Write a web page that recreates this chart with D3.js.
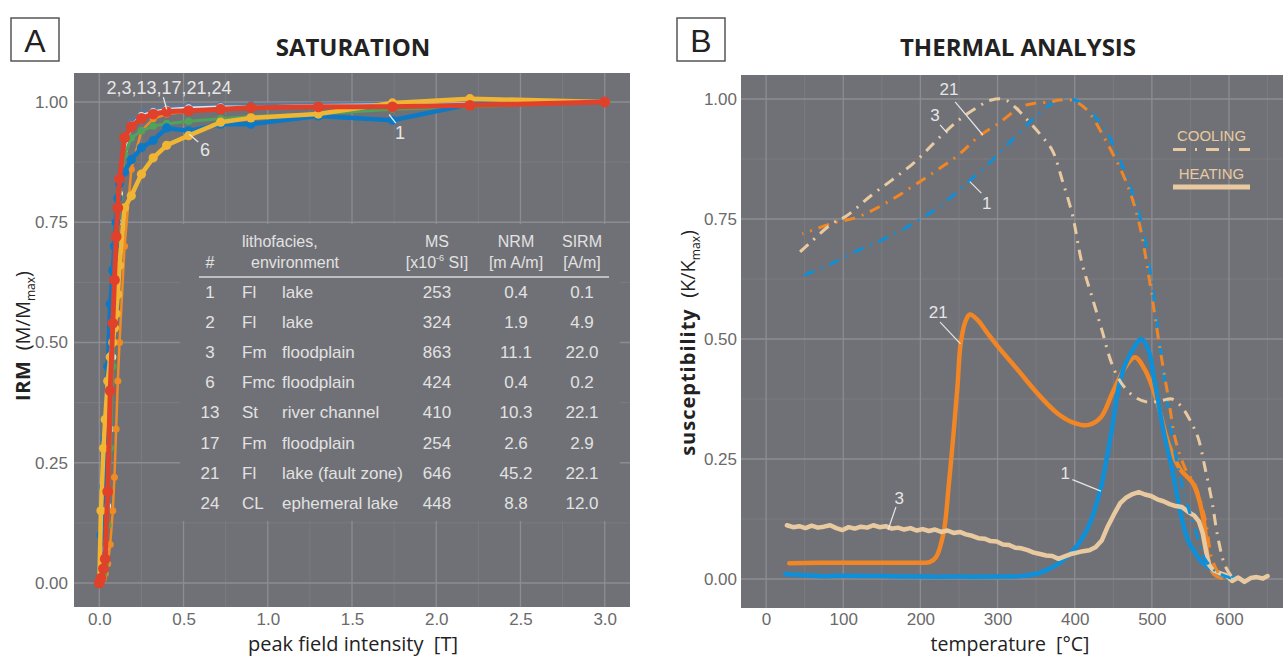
<!DOCTYPE html>
<html>
<head>
<meta charset="utf-8">
<script src="https://cdn.jsdelivr.net/npm/d3@7/dist/d3.min.js"></script>
<style>
    body { margin: 0; background: #fff; }
    text { font-family: "Liberation Sans", Arial, sans-serif; }
</style>
</head>
<body>
<svg id="chart" width="1283" height="659"></svg>
<script>
// - - - - - - - - - -
// data: A - saturation (IRM acquisition)
// - - - - - - - - - -
const fieldT = [0, 0.01, 0.025, 0.035, 0.05, 0.065, 0.08, 0.09, 0.1, 0.11, 0.12, 0.15, 0.19, 0.25, 0.32, 0.4, 0.53, 0.72, 0.9, 1.3, 1.74, 2.2, 3.0];

const irm2  = [0, 0.02, 0.06, 0.12, 0.25, 0.42, 0.56, 0.64, 0.72, 0.79, 0.85, 0.93, 0.96, 0.978, 0.985, 0.99, 0.993, 0.994, 0.995, 0.996, 0.997, 0.998, 1.0];
const irm3  = [0, 0.01, 0.03, 0.07, 0.16, 0.32, 0.47, 0.57, 0.67, 0.75, 0.81, 0.9, 0.952, 0.972, 0.98, 0.985, 0.988, 0.99, 0.99, 0.993, 0.995, 0.997, 1.0];
const irm13 = [0, 0, 0.01, 0.02, 0.04, 0.08, 0.15, 0.22, 0.32, 0.42, 0.5, 0.7, 0.86, 0.94, 0.965, 0.975, 0.98, 0.985, 0.988, 0.99, 0.992, 0.995, 1.0];
const irm17 = [0, 0.005, 0.02, 0.04, 0.12, 0.28, 0.45, 0.55, 0.64, 0.72, 0.8, 0.89, 0.925, 0.94, 0.95, 0.955, 0.96, 0.965, 0.97, 0.975, 0.985, 0.99, 1.0];
const irm1  = [0, 0.1, 0.2, 0.3, 0.45, 0.58, 0.65, 0.7, 0.75, 0.8, 0.83, 0.855, 0.88, 0.905, 0.92, 0.946, 0.94, 0.954, 0.954, 0.971, 0.962, 0.995, 1.0];
const irm6  = [0, 0.15, 0.28, 0.34, 0.42, 0.47, 0.5, 0.53, 0.56, 0.6, 0.66, 0.78, 0.805, 0.85, 0.884, 0.91, 0.93, 0.958, 0.967, 0.975, 0.998, 1.007, 1.0];
const irm21 = [0, 0.01, 0.03, 0.05, 0.19, 0.4, 0.54, 0.63, 0.72, 0.78, 0.84, 0.926, 0.949, 0.966, 0.975, 0.98, 0.982, 0.985, 0.988, 0.99, 0.99, 0.993, 1.0];

// table of samples
const sampleIds = ['1', '2', '3', '6', '13', '17', '21', '24'];
const facies    = ['Fl', 'Fl', 'Fm', 'Fmc', 'St', 'Fm', 'Fl', 'CL'];
const envs      = ['lake', 'lake', 'floodplain', 'floodplain', 'river channel', 'floodplain', 'lake (fault zone)', 'ephemeral lake'];
const msVals    = ['253', '324', '863', '424', '410', '254', '646', '448'];
const nrmVals   = ['0.4', '1.9', '11.1', '0.4', '10.3', '2.6', '45.2', '8.8'];
const sirmVals  = ['0.1', '4.9', '22.0', '0.2', '22.1', '2.9', '22.1', '12.0'];

// - - - - - - - - - -
// data: B - thermal analysis, [T degC, K/Kmax]
// - - - - - - - - - -
const heat21 = [[30,0.033],[100,0.034],[150,0.034],[200,0.034],[212,0.035],[220,0.045],[230,0.096],[237,0.2],[243,0.304],[248,0.4],[252,0.488],[258,0.535],[264,0.551],[274,0.54],[287,0.512],[300,0.485],[326,0.436],[351,0.388],[377,0.346],[398,0.326],[418,0.321],[434,0.337],[449,0.388],[465,0.44],[478,0.462],[491,0.436],[506,0.374],[522,0.28],[537,0.228],[553,0.2],[560,0.172],[565,0.14],[569,0.1],[573,0.04],[580,0.012],[590,0.003]];
const heat1  = [[25,0.01],[50,0.008],[70,0.006],[100,0.007],[150,0.006],[200,0.005],[250,0.005],[300,0.005],[330,0.006],[353,0.012],[377,0.03],[401,0.065],[418,0.11],[433,0.185],[449,0.32],[457,0.4],[465,0.445],[478,0.485],[486,0.5],[495,0.48],[504,0.407],[515,0.31],[526,0.231],[539,0.125],[547,0.08],[556,0.055],[565,0.035],[578,0.02],[595,0.006],[605,0.004]];
const heat3  = [[27,0.112],[35,0.108],[43,0.110],[51,0.106],[59,0.111],[67,0.107],[75,0.109],[83,0.112],[91,0.106],[99,0.102],[107,0.108],[115,0.105],[123,0.109],[131,0.107],[139,0.112],[147,0.108],[155,0.110],[163,0.105],[171,0.107],[179,0.103],[187,0.106],[195,0.101],[203,0.104],[211,0.100],[219,0.103],[227,0.098],[235,0.101],[243,0.096],[251,0.098],[259,0.093],[267,0.090],[275,0.085],[283,0.084],[291,0.079],[299,0.078],[307,0.072],[315,0.071],[323,0.065],[331,0.064],[339,0.060],[347,0.055],[355,0.052],[363,0.049],[371,0.048],[379,0.042],[387,0.047],[395,0.052],[403,0.055],[411,0.058],[419,0.060],[427,0.066],[435,0.080],[443,0.110],[451,0.135],[459,0.158],[467,0.170],[475,0.177],[483,0.181],[491,0.176],[499,0.173],[507,0.166],[515,0.162],[523,0.156],[531,0.152],[539,0.150],[547,0.140],[555,0.132],[561,0.120],[566,0.095],[570,0.060],[574,0.030],[580,0.018],[588,0.012],[596,0.008],[604,-0.004],[612,0.003],[620,-0.006],[628,0.002],[636,0.004],[644,0.001],[650,0.006]];

const cool1  = [[603,0.002],[586,0.013],[569,0.041],[556,0.104],[545,0.16],[534,0.231],[526,0.301],[517,0.407],[509,0.506],[500,0.618],[487,0.738],[474,0.808],[457,0.879],[440,0.935],[418,0.977],[405,0.995],[390,1.0],[374,0.994],[348,0.961],[326,0.926],[305,0.892],[288,0.864],[262,0.827],[227,0.779],[198,0.748],[163,0.716],[120,0.685],[77,0.651],[43,0.629]];
const cool21 = [[586,0.013],[578,0.041],[569,0.125],[556,0.196],[543,0.231],[530,0.294],[522,0.372],[513,0.456],[504,0.548],[496,0.632],[483,0.745],[466,0.83],[440,0.914],[416,0.977],[397,0.997],[380,0.998],[369,0.994],[348,0.991],[331,0.984],[301,0.949],[275,0.921],[249,0.883],[219,0.849],[189,0.817],[155,0.783],[120,0.755],[86,0.741],[47,0.719]];
const cool3  = [[603,0.006],[595,0.027],[586,0.083],[578,0.161],[569,0.231],[560,0.294],[552,0.323],[539,0.358],[526,0.375],[513,0.372],[496,0.368],[478,0.379],[461,0.407],[448,0.449],[435,0.52],[422,0.59],[409,0.661],[397,0.759],[384,0.83],[371,0.893],[356,0.925],[339,0.956],[322,0.984],[309,0.999],[292,0.998],[275,0.984],[253,0.96],[228,0.925],[193,0.869],[163,0.831],[137,0.8],[103,0.755],[86,0.741],[56,0.699],[43,0.68]];

// ticks
const xTicksA = [0, 0.5, 1, 1.5, 2, 2.5, 3];
const yTicks  = [0, 0.25, 0.5, 0.75, 1];
const xTicksB = [0, 100, 200, 300, 400, 500, 600];

// - - - - - - - - - -
const BG = '#707176';
const svg = d3.select('#chart');

const xA = d3.scaleLinear().domain([0, 3]).range([99.3, 604.7]);
const yA = d3.scaleLinear().domain([0, 1]).range([583, 102]);
const boxA = { x0: 74, x1: 630, y0: 73, y1: 607 };

const xB = d3.scaleLinear().domain([0, 600]).range([766.1, 1229]);
const yB = d3.scaleLinear().domain([0, 1]).range([579, 99]);
const boxB = { x0: 741, x1: 1283, y0: 75, y1: 608 };

function drawPanel(box, x, y, xMaj, xMin, yMaj, yMin) {
    const g = svg.append('g');
    g.append('rect')
        .attr('x', box.x0).attr('y', box.y0)
        .attr('width', box.x1 - box.x0).attr('height', box.y1 - box.y0)
        .attr('fill', BG);

    const vline = (vals, w, c) => g.selectAll(null).data(vals).enter().append('line')
        .attr('x1', d => x(d)).attr('x2', d => x(d))
        .attr('y1', box.y0).attr('y2', box.y1)
        .attr('stroke', c).attr('stroke-width', w);
    const hline = (vals, w, c) => g.selectAll(null).data(vals).enter().append('line')
        .attr('y1', d => y(d)).attr('y2', d => y(d))
        .attr('x1', box.x0).attr('x2', box.x1)
        .attr('stroke', c).attr('stroke-width', w);

    vline(xMin, 0.7, '#7f8085');
    hline(yMin, 0.7, '#7f8085');
    vline(xMaj, 1.3, '#8c8d92');
    hline(yMaj, 1.3, '#8c8d92');
    return g;
}

function styleAxis(g) {
    g.select('.domain').remove();
    g.selectAll('text')
        .attr('fill', '#6a6a6a')
        .style('font-size', '17px')
        .style('font-family', '"Liberation Sans", Arial, sans-serif');
}

// - - - - - - - - - -
// panel A
// - - - - - - - - - -
const minorA = d3.range(0.25, 3.2, 0.5);
const minorY = d3.range(0.125, 1.05, 0.25);
drawPanel(boxA, xA, yA, xTicksA, minorA, yTicks, minorY);

svg.append('g').attr('transform', `translate(0,${boxA.y1})`)
    .call(d3.axisBottom(xA).tickValues(xTicksA).tickSize(0).tickPadding(6).tickFormat(d3.format('.1f')))
    .call(styleAxis);
svg.append('g').attr('transform', `translate(${boxA.x0},0)`)
    .call(d3.axisLeft(yA).tickValues(yTicks).tickSize(0).tickPadding(6).tickFormat(d3.format('.2f')))
    .call(styleAxis);

// table (covers the grid)
const tbl = svg.append('g').attr('fill', '#e2e2e2').style('font-size', '17px');
tbl.append('rect').attr('x', 180).attr('y', 224).attr('width', 440).attr('height', 297).attr('fill', BG);

const hdr = [
    { t: '#', x: 210, y: 268, a: 'middle' },
    { t: 'lithofacies,', x: 242, y: 247, a: 'start' },
    { t: 'environment', x: 251, y: 268, a: 'start' },
    { t: 'MS', x: 437, y: 247, a: 'middle' },
    { t: 'NRM', x: 516, y: 247, a: 'middle' },
    { t: '[m A/m]', x: 516, y: 268, a: 'middle' },
    { t: 'SIRM', x: 582, y: 247, a: 'middle' },
    { t: '[A/m]', x: 582, y: 268, a: 'middle' }
];
tbl.selectAll('.hdr').data(hdr).enter().append('text')
    .attr('x', d => d.x).attr('y', d => d.y).attr('text-anchor', d => d.a)
    .style('font-size', '16px').text(d => d.t);
const msUnit = tbl.append('text').attr('x', 437).attr('y', 268).attr('text-anchor', 'middle').style('font-size', '16px');
msUnit.append('tspan').text('[x10');
msUnit.append('tspan').attr('dy', -7).style('font-size', '9px').text('-6');
msUnit.append('tspan').attr('dy', 7).text(' SI]');
tbl.append('line').attr('x1', 199).attr('x2', 609).attr('y1', 277).attr('y2', 277)
    .attr('stroke', '#d8d8d8').attr('stroke-width', 1.3);

const rowY = i => 298 + i * 30.1;
const cols = [
    { vals: sampleIds, x: 210, a: 'middle' },
    { vals: facies, x: 242, a: 'start' },
    { vals: envs, x: 282, a: 'start' },
    { vals: msVals, x: 437, a: 'middle' },
    { vals: nrmVals, x: 516, a: 'middle' },
    { vals: sirmVals, x: 582, a: 'middle' }
];
cols.forEach(c => {
    tbl.selectAll(null).data(c.vals).enter().append('text')
        .attr('x', c.x).attr('y', (d, i) => rowY(i))
        .attr('text-anchor', c.a).text(d => d);
});

// curves
const seriesA = [
    { v: irm2, c: '#5c7898', w: 3, r: 3.5 },
    { v: irm3, c: '#e4e4e6', w: 2.5, r: 3.5 },
    { v: irm13, c: '#f08a24', w: 2.5, r: 3.5 },
    { v: irm17, c: '#4fa35a', w: 3, r: 3.8 },
    { v: irm1, c: '#0c79c6', w: 4.5, r: 4.6 },
    { v: irm6, c: '#f1b534', w: 4.5, r: 4.6 },
    { v: irm21, c: '#e0412b', w: 5, r: 5.4 }
];
const lineA = d3.line().x(d => xA(d[0])).y(d => yA(d[1]));
seriesA.forEach(s => {
    const pts = fieldT.map((f, i) => [f, s.v[i]]);
    svg.append('path').datum(pts).attr('d', lineA)
        .attr('fill', 'none').attr('stroke', s.c).attr('stroke-width', s.w)
        .attr('stroke-linejoin', 'round');
    svg.append('g').selectAll('circle').data(pts).enter().append('circle')
        .attr('cx', d => xA(d[0])).attr('cy', d => yA(d[1])).attr('r', s.r)
        .attr('fill', s.c);
});

// labels in A
const labelsA = [
    { t: '2,3,13,17,21,24', x: 0.414, y: 1.017, l: [[0.38, 1.01], [0.40, 0.985]] },
    { t: '6', x: 0.627, y: 0.888, l: [[0.587, 0.917], [0.534, 0.933]] },
    { t: '1', x: 1.785, y: 0.923, l: [[1.76, 0.956], [1.72, 0.974]] }
];
labelsA.forEach(d => {
    svg.append('line')
        .attr('x1', xA(d.l[0][0])).attr('y1', yA(d.l[0][1]))
        .attr('x2', xA(d.l[1][0])).attr('y2', yA(d.l[1][1]))
        .attr('stroke', '#e6e6e6').attr('stroke-width', 1.3);
    svg.append('text').attr('x', xA(d.x)).attr('y', yA(d.y))
        .attr('text-anchor', 'middle').attr('fill', '#e6e6e6')
        .style('font-size', '18px').text(d.t);
});

// - - - - - - - - - -
// panel B
// - - - - - - - - - -
const clip = svg.append('clipPath').attr('id', 'clipB');
clip.append('rect').attr('x', boxB.x0).attr('y', boxB.y0).attr('width', boxB.x1 - boxB.x0).attr('height', boxB.y1 - boxB.y0);

drawPanel(boxB, xB, yB, xTicksB, d3.range(50, 700, 100), yTicks, minorY);

svg.append('g').attr('transform', `translate(0,${boxB.y1})`)
    .call(d3.axisBottom(xB).tickValues(xTicksB).tickSize(0).tickPadding(5).tickFormat(d3.format('d')))
    .call(styleAxis);
svg.append('g').attr('transform', `translate(${boxB.x0},0)`)
    .call(d3.axisLeft(yB).tickValues(yTicks).tickSize(0).tickPadding(4).tickFormat(d3.format('.2f')))
    .call(styleAxis);

const BLUE = '#0d8fd9', ORANGE = '#f28524', BEIGE = '#e9caa0';
const lineB = d3.line().x(d => xB(d[0])).y(d => yB(d[1])).curve(d3.curveCatmullRom);
const lineRough = d3.line().x(d => xB(d[0])).y(d => yB(d[1]));
const gB = svg.append('g').attr('clip-path', 'url(#clipB)');

const heating = [
    { d: heat21, c: ORANGE, f: lineB },
    { d: heat1, c: BLUE, f: lineB },
    { d: heat3, c: BEIGE, f: lineRough }
];
heating.forEach(s => {
    gB.append('path').datum(s.d).attr('d', s.f)
        .attr('fill', 'none').attr('stroke', s.c).attr('stroke-width', 4.5)
        .attr('stroke-linejoin', 'round').attr('stroke-linecap', 'round');
});
const cooling = [
    { d: cool1, c: BLUE },
    { d: cool21, c: ORANGE },
    { d: cool3, c: BEIGE }
];
cooling.forEach(s => {
    gB.append('path').datum(s.d).attr('d', lineB)
        .attr('fill', 'none').attr('stroke', s.c).attr('stroke-width', 3)
        .attr('stroke-dasharray', '11,7,2,7');
});

// labels in B
const labelsB = [
    { t: '21', x: 237, y: 1.008, l: [[245, 0.994], [281, 0.925]] },
    { t: '3', x: 219, y: 0.954, l: [[225.5, 0.946], [235, 0.929]] },
    { t: '1', x: 286, y: 0.771, l: [[279, 0.804], [264, 0.828]] },
    { t: '21', x: 223, y: 0.544, l: [[225.5, 0.535], [252, 0.49]] },
    { t: '3', x: 172.6, y: 0.156, l: [[168.3, 0.15], [158, 0.102]] },
    { t: '1', x: 387.7, y: 0.208, l: [[397, 0.207], [434, 0.183]] }
];
labelsB.forEach(d => {
    svg.append('line')
        .attr('x1', xB(d.l[0][0])).attr('y1', yB(d.l[0][1]))
        .attr('x2', xB(d.l[1][0])).attr('y2', yB(d.l[1][1]))
        .attr('stroke', '#e6e6e6').attr('stroke-width', 1.2);
    svg.append('text').attr('x', xB(d.x)).attr('y', yB(d.y))
        .attr('text-anchor', 'middle').attr('fill', '#e6e6e6')
        .style('font-size', '17px').text(d.t);
});

// legend
const leg = svg.append('g');
leg.append('text').attr('x', 1211.5).attr('y', 141).attr('text-anchor', 'middle')
    .attr('fill', BEIGE).style('font-size', '15px').text('COOLING');
leg.append('line').attr('x1', 1173).attr('x2', 1250).attr('y1', 149.5).attr('y2', 149.5)
    .attr('stroke', BEIGE).attr('stroke-width', 3).attr('stroke-dasharray', '13,9,2,9');
leg.append('text').attr('x', 1211.5).attr('y', 179).attr('text-anchor', 'middle')
    .attr('fill', BEIGE).style('font-size', '15px').text('HEATING');
leg.append('line').attr('x1', 1173).attr('x2', 1250).attr('y1', 187).attr('y2', 187)
    .attr('stroke', BEIGE).attr('stroke-width', 5);

// - - - - - - - - - -
// titles, panel letters, axis titles
// - - - - - - - - - -
const OPEN = '"Open Sans", "Noto Sans", sans-serif';
[['SATURATION', 353], ['THERMAL ANALYSIS', 1018]].forEach(t => {
    svg.append('text').attr('x', t[1]).attr('y', 56).attr('text-anchor', 'middle')
        .attr('fill', '#222').style('font-family', OPEN).style('font-weight', 700)
        .style('font-size', '24px').text(t[0]);
});
[['A', 11], ['B', 677]].forEach(t => {
    svg.append('rect').attr('x', t[1]).attr('y', 18).attr('width', 48).attr('height', 43)
        .attr('fill', '#fff').attr('stroke', '#555').attr('stroke-width', 1.5);
    svg.append('text').attr('x', t[1] + 24).attr('y', 52).attr('text-anchor', 'middle')
        .attr('fill', '#222').style('font-size', '32px').text(t[0]);
});

[['peak field intensity  [T]', 353, 20], ['temperature  [°C]', 1010, 19.5]].forEach(t => {
    svg.append('text').attr('x', t[1]).attr('y', 651).attr('text-anchor', 'middle')
        .attr('fill', '#222').style('font-family', OPEN).style('font-size', t[2] + 'px')
        .attr('xml:space', 'preserve').text(t[0]);
});

function yTitle(x, y, bold, sym, spacing) {
    const t = svg.append('text').attr('transform', `translate(${x},${y}) rotate(-90)`)
        .attr('text-anchor', 'middle').attr('fill', '#222')
        .style('font-family', OPEN).style('font-size', '20px');
    t.append('tspan').style('font-weight', 700).style('letter-spacing', spacing + 'px').text(bold);
    t.append('tspan').text('\u00a0\u00a0(' + sym + '/' + sym);
    t.append('tspan').attr('dy', 5).style('font-size', '12px').text('max');
    t.append('tspan').attr('dy', -5).text(')');
}
yTitle(30, 336, 'IRM', 'M', 0.5);
yTitle(695, 343, 'susceptibility', 'K', 1);
</script>
</body>
</html>
